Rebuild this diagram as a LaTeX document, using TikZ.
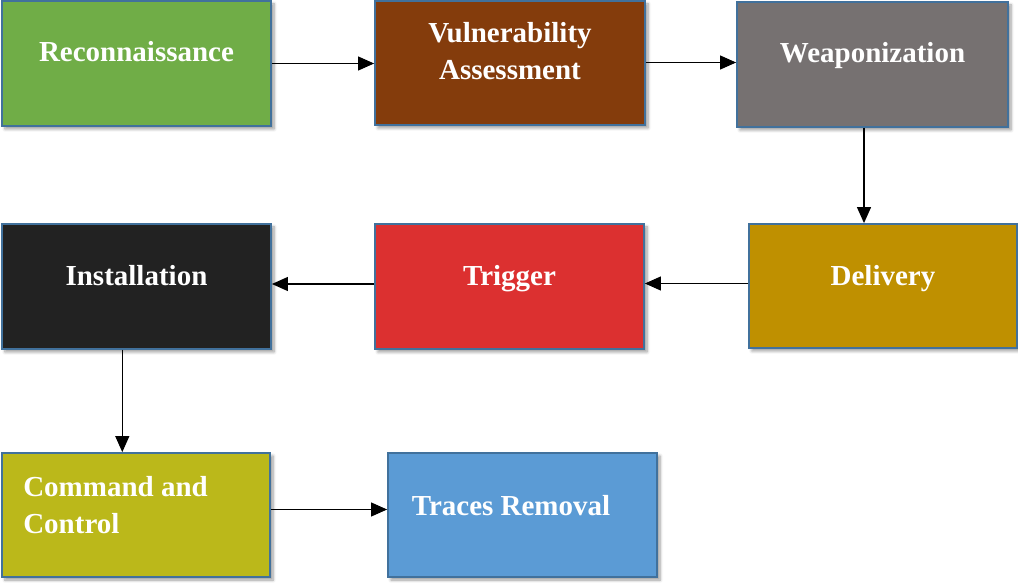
\documentclass[tikz,border=0pt]{standalone}
\usepackage{fontspec}
\setmainfont{Liberation Serif}
\usetikzlibrary{arrows.meta,shadows.blur,calc}
\definecolor{bordc}{HTML}{41719C}
\definecolor{cRecon}{HTML}{70AD47}
\definecolor{cVA}{HTML}{843C0C}
\definecolor{cWeap}{HTML}{767171}
\definecolor{cDeliv}{HTML}{BF9000}
\definecolor{cTrig}{HTML}{DC3030}
\definecolor{cInst}{HTML}{222222}
\definecolor{cCC}{HTML}{BBB81A}
\definecolor{cTrace}{HTML}{5B9BD5}
\tikzset{
  stagebox/.style={draw=bordc, line width=1.8pt, minimum width=269pt, minimum height=124pt,
    inner sep=0pt, blur shadow={shadow xshift=3pt, shadow yshift=-3pt, shadow blur steps=6, shadow blur radius=3pt, shadow opacity=40}},
  stagetxt/.style={text=white, font=\fontsize{29}{37}\selectfont\bfseries, inner sep=0pt},
  flow/.style={line width=1.1pt, -{Triangle[length=16pt,width=14pt]}}
}
\begin{document}
\begin{tikzpicture}[x=1pt,y=1pt]
\useasboundingbox (0,0) rectangle (1018,582);
\node[stagebox, fill=cRecon, minimum width=269pt, minimum height=125pt] (recon) at (136.5,518.5) {};
\node[stagebox, fill=cVA, minimum width=270pt] (va) at (510,519) {};
\node[stagebox, fill=cWeap, minimum width=271pt, minimum height=125pt] (weap) at (872.5,517.5) {};
\node[stagebox, fill=cDeliv, minimum width=268pt] (deliv) at (883,296) {};
\node[stagebox, fill=cTrig, minimum height=125pt] (trig) at (509.5,295.5) {};
\node[stagebox, fill=cInst, minimum height=125pt] (inst) at (136.5,295.5) {};
\node[stagebox, fill=cCC, minimum width=268pt] (cc) at (136,67) {};
\node[stagebox, fill=cTrace] (trace) at (522.5,67) {};

\node[stagetxt, anchor=base] (trecon) at ([yshift=1.5pt]recon.center) {Reconnaissance};
\node[stagetxt, anchor=base, align=center] (tva) at ([yshift=-17pt]va.center) {Vulnerability\\Assessment};
\node[stagetxt, anchor=base] (tweap) at ([yshift=1.5pt]weap.center) {Weaponization};
\node[stagetxt, anchor=base] (tdeliv) at (deliv.center) {Delivery};
\node[stagetxt, anchor=base] (ttrig) at ([yshift=0.5pt]trig.center) {Trigger};
\node[stagetxt, anchor=base] (tinst) at ([yshift=0.5pt]inst.center) {Installation};
\node[stagetxt, anchor=base west, align=left] (tcc) at ([xshift=22pt,yshift=-18pt]cc.west) {Command and\\Control};
\node[stagetxt, anchor=base] (ttrace) at ([xshift=-11.5pt]trace.center) {Traces Removal};

\coordinate (xa) at (864,0);
\coordinate (xb) at (122.3,0);
\draw[flow] (recon.east) -- (recon.east -| va.west);
\draw[flow] ([yshift=0.5pt]va.east) -- ([yshift=0.5pt]va.east -| weap.west);
\draw[flow] (weap.south -| xa) -- (deliv.north -| xa);
\draw[flow] ([yshift=2.5pt]deliv.west) -- ([yshift=2.5pt]deliv.west -| trig.east);
\draw[flow] ([yshift=2.5pt]trig.west) -- ([yshift=2.5pt]trig.west -| inst.east);
\draw[flow] (inst.south -| xb) -- (cc.north -| xb);
\draw[flow] ([yshift=5.5pt]cc.east) -- ([yshift=5.5pt]cc.east -| trace.west);
\end{tikzpicture}
\end{document}
